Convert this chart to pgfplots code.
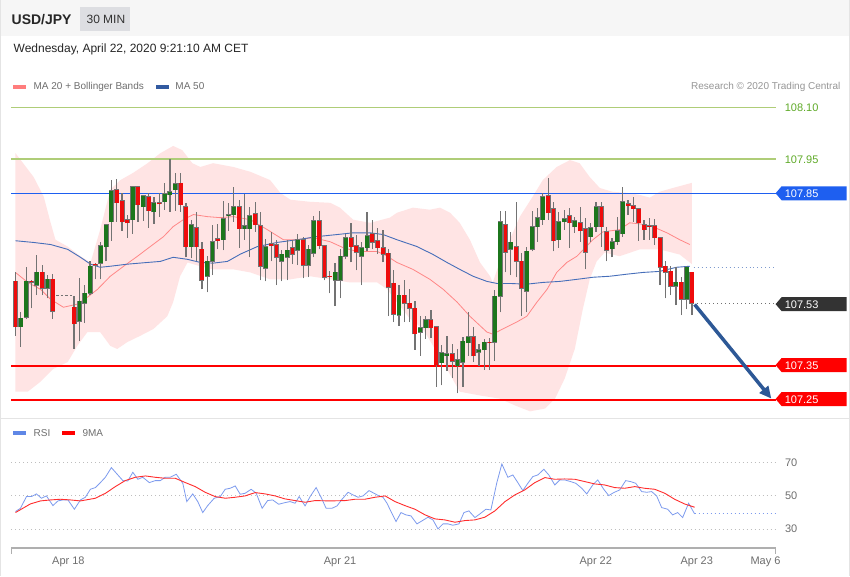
\documentclass[border=0pt]{standalone}
\usepackage{fontspec}
\setmainfont{Liberation Sans}
\usepackage{pgfplots}
\pgfplotsset{compat=1.18}
\usepackage{pgfplotstable}
\usetikzlibrary{arrows.meta}

\definecolor{hdrbg}{RGB}{246,246,246}
\definecolor{tagbox}{RGB}{221,222,226}
\definecolor{bandpink}{RGB}{255,228,228}
\definecolor{ma20}{RGB}{255,135,135}
\definecolor{ma50}{RGB}{70,110,185}
\definecolor{candlered}{RGB}{238,12,12}
\definecolor{candlegreen}{RGB}{28,118,28}
\definecolor{wick}{RGB}{115,115,115}
\definecolor{lvlgreen}{RGB}{175,205,120}
\definecolor{tagblue}{RGB}{30,95,240}
\definecolor{tagdark}{RGB}{51,51,51}
\definecolor{lvlred}{RGB}{255,0,0}
\definecolor{txtgreen}{RGB}{95,170,40}
\definecolor{txtgray}{RGB}{110,110,110}
\definecolor{txtlight}{RGB}{150,150,150}
\definecolor{arrowblue}{RGB}{45,88,150}
\definecolor{rsiblue}{RGB}{125,155,238}
\definecolor{rsired}{RGB}{255,45,45}
\definecolor{legpink}{RGB}{255,125,125}
\definecolor{legblue}{RGB}{50,90,160}
\definecolor{legrsi}{RGB}{95,135,230}
\definecolor{borderc}{RGB}{228,228,228}
\definecolor{axisgray}{RGB}{175,175,175}
\definecolor{dotgray}{RGB}{190,190,190}

\newcommand{\sz}[1]{\fontsize{#1}{#1}\selectfont}

% candles: i = 30-min slot index, O H L C in JPY per USD
\pgfplotstableread{
i O H L C
0 107.595 107.621 107.437 107.463
3 107.595 107.598 107.517 107.593
5 107.621 107.642 107.555 107.575
7 107.601 107.616 107.486 107.508
11 107.520 107.552 107.399 107.472
15 107.645 107.648 107.601 107.642
19 107.861 107.892 107.768 107.823
20 107.829 107.852 107.742 107.768
21 107.774 107.789 107.722 107.765
23 107.869 107.871 107.768 107.818
25 107.841 107.852 107.751 107.800
27 107.823 107.852 107.783 107.820
31 107.880 107.910 107.797 107.818
32 107.812 107.823 107.665 107.696
34 107.751 107.797 107.653 107.696
35 107.688 107.710 107.572 107.598
38 107.719 107.762 107.688 107.713
42 107.812 107.832 107.693 107.748
45 107.791 107.826 107.739 107.760
46 107.757 107.797 107.598 107.639
48 107.704 107.739 107.653 107.699
49 107.702 107.716 107.584 107.665
52 107.693 107.716 107.645 107.674
54 107.716 107.725 107.604 107.642
57 107.771 107.800 107.688 107.699
58 107.699 107.702 107.598 107.607
59 107.610 107.624 107.560 107.608
63 107.722 107.765 107.650 107.696
64 107.699 107.731 107.627 107.679
67 107.733 107.774 107.688 107.708
68 107.713 107.751 107.674 107.693
69 107.693 107.745 107.650 107.674
70 107.676 107.688 107.494 107.578
71 107.589 107.627 107.477 107.500
73 107.555 107.598 107.477 107.531
74 107.531 107.572 107.477 107.517
75 107.517 107.537 107.396 107.443
78 107.483 107.511 107.431 107.460
79 107.463 107.464 107.290 107.353
82 107.385 107.414 107.316 107.364
86 107.434 107.463 107.361 107.379
89 107.419 107.431 107.338 107.417
92 107.760 107.800 107.621 107.679
94 107.696 107.826 107.607 107.653
95 107.653 107.676 107.494 107.575
100 107.844 107.895 107.774 107.794
101 107.806 107.826 107.682 107.713
104 107.786 107.809 107.693 107.765
106 107.765 107.812 107.710 107.742
107 107.748 107.780 107.630 107.679
110 107.812 107.826 107.696 107.754
111 107.739 107.754 107.653 107.685
115 107.820 107.832 107.789 107.815
116 107.815 107.841 107.768 107.806
117 107.806 107.809 107.713 107.765
118 107.760 107.774 107.716 107.745
119 107.757 107.780 107.716 107.754
120 107.757 107.777 107.702 107.722
121 107.722 107.725 107.584 107.636
122 107.639 107.653 107.546 107.621
123 107.624 107.639 107.555 107.581
125 107.592 107.607 107.497 107.543
127 107.621 107.622 107.497 107.531
}\redcandles

\pgfplotstableread{
i O H L C
1 107.463 107.505 107.405 107.488
2 107.491 107.636 107.486 107.595
4 107.584 107.671 107.555 107.621
6 107.575 107.613 107.546 107.601
12 107.480 107.604 107.422 107.537
13 107.531 107.584 107.474 107.560
14 107.560 107.653 107.555 107.639
16 107.648 107.710 107.601 107.699
17 107.696 107.762 107.653 107.760
18 107.768 107.889 107.713 107.858
22 107.774 107.871 107.733 107.869
24 107.812 107.847 107.771 107.844
26 107.797 107.841 107.762 107.823
28 107.826 107.880 107.803 107.849
29 107.847 107.950 107.797 107.855
30 107.861 107.910 107.800 107.878
33 107.696 107.774 107.662 107.760
36 107.610 107.668 107.563 107.653
37 107.653 107.760 107.613 107.710
39 107.716 107.829 107.685 107.777
40 107.786 107.823 107.742 107.789
41 107.789 107.870 107.768 107.812
43 107.748 107.849 107.716 107.757
44 107.748 107.812 107.665 107.786
47 107.633 107.719 107.595 107.696
50 107.653 107.685 107.595 107.674
51 107.665 107.716 107.598 107.685
53 107.685 107.733 107.642 107.716
55 107.642 107.702 107.607 107.688
56 107.676 107.786 107.665 107.771
60 107.598 107.648 107.523 107.621
61 107.598 107.688 107.546 107.668
62 107.668 107.733 107.659 107.722
65 107.668 107.710 107.584 107.693
66 107.693 107.797 107.682 107.728
72 107.497 107.584 107.466 107.555
76 107.448 107.494 107.379 107.460
77 107.460 107.494 107.428 107.483
80 107.359 107.411 107.293 107.388
81 107.379 107.437 107.335 107.385
83 107.350 107.399 107.270 107.367
84 107.361 107.434 107.290 107.422
85 107.417 107.505 107.379 107.434
87 107.390 107.414 107.350 107.396
88 107.396 107.428 107.338 107.419
90 107.419 107.569 107.364 107.552
91 107.552 107.800 107.505 107.768
93 107.688 107.739 107.613 107.708
96 107.566 107.696 107.505 107.682
97 107.688 107.800 107.682 107.754
98 107.754 107.809 107.710 107.780
99 107.774 107.852 107.760 107.841
102 107.716 107.797 107.693 107.768
103 107.768 107.803 107.745 107.777
105 107.754 107.783 107.736 107.771
108 107.725 107.765 107.710 107.751
109 107.754 107.826 107.739 107.812
112 107.690 107.722 107.665 107.710
113 107.710 107.783 107.702 107.742
114 107.733 107.870 107.725 107.826
124 107.581 107.636 107.526 107.592
126 107.543 107.639 107.514 107.636
}\greencandles

\newcommand{\leveltag}[3]{%
  \fill[#2] (776,-#1) -- (782,{7-#1}) -- (847,{7-#1}) -- (847,{-7-#1}) -- (782,{-7-#1}) -- cycle;
  \node[anchor=base west, inner sep=0, text=white, font=\sz{11}] at (785,{-4-#1}) {#3};}

\pgfplotsset{candle/.style 2 args={draw=none, mark=none, forget plot,
    error bars/.cd, y dir=plus, y explicit, error mark=none,
    error bar style={draw=#1, line width=#2}}}

\begin{document}
\begin{tikzpicture}
\begin{scope}[x=1pt,y=1pt]
  \fill[white] (0,0) rectangle (850,-576);
  \fill[hdrbg] (0,0) rectangle (850,-36);
  \draw[borderc, line width=1pt] (0.5,0) -- (0.5,-576);
  \draw[borderc, line width=1pt] (849.5,0) -- (849.5,-576);
  \draw[borderc, line width=1pt] (0,-418) -- (850,-418);
  \fill[tagbox] (80,-7) rectangle (130,-31);
  \node[anchor=base west, inner sep=0, font=\bfseries\sz{14}, text=black!85] at (11,-24) {USD/JPY};
  \node[anchor=base west, inner sep=0, font=\sz{12}, text=black!80] at (86,-23.3) {30 MIN};
  \node[anchor=base west, inner sep=0, font=\sz{12}, text=black!85] at (13,-52.3) {Wednesday, April 22, 2020 9:21:10 AM CET};
  % legends
  \fill[legpink] (13,-84.5) rectangle (26,-88.5);
  \node[anchor=base west, inner sep=0, font=\sz{10}, text=txtgray] at (33,-89.6) {MA 20 + Bollinger Bands};
  \fill[legblue] (156,-84.5) rectangle (169,-88.5);
  \node[anchor=base west, inner sep=0, font=\sz{10}, text=txtgray] at (175,-89.6) {MA 50};
  \node[anchor=base east, inner sep=0, font=\sz{10}, text=txtlight] at (841,-89.6) {Research © 2020 Trading Central};
  \fill[legrsi] (13,-431.5) rectangle (26,-435.5);
  \node[anchor=base west, inner sep=0, font=\sz{10}, text=txtgray] at (33,-436.6) {RSI};
  \fill[lvlred] (62,-431.5) rectangle (75,-435.5);
  \node[anchor=base west, inner sep=0, font=\sz{10}, text=txtgray] at (82,-436.6) {9MA};
  % level labels
  \node[anchor=base west, inner sep=0, font=\sz{11}, text=txtgreen] at (785,-111) {108.10};
  \node[anchor=base west, inner sep=0, font=\sz{11}, text=txtgreen] at (785,-163) {107.95};
  \leveltag{193}{tagblue}{107.85}
  \leveltag{304}{tagdark}{107.53}
  \leveltag{365}{lvlred}{107.35}
  \leveltag{399}{lvlred}{107.25}
\end{scope}

% ---------------- price panel ----------------
\begin{axis}[at={(11pt,-418pt)}, anchor=south west, scale only axis,
  width=765pt, height=320pt, xmin=-0.75, xmax=142.7, ymin=107.1986, ymax=108.1261,
  hide axis, clip=false]
  % Bollinger band (upper left->right, lower right->left)
  \addplot[fill=bandpink, draw=none] coordinates {
   (0,107.967) (3.4,107.898) (5.3,107.841) (6.6,107.765) (7.5,107.716) (9.8,107.696)
   (12.2,107.668) (14.1,107.650) (15.9,107.745) (17.8,107.861) (19.7,107.889) (22.1,107.910)
   (24.8,107.938) (27.2,107.967) (29.6,107.988) (31.3,107.976) (33.2,107.938) (34.7,107.927)
   (37.1,107.938) (40.9,107.927) (44.1,107.913) (47.8,107.889) (49.7,107.852) (51.6,107.832)
   (55.3,107.826) (59.1,107.823) (60.9,107.809) (63.4,107.774) (66.6,107.765) (70.3,107.780)
   (71.6,107.794) (74.6,107.809) (77.8,107.803) (79.7,107.809) (81.6,107.794) (83.4,107.765)
   (85.3,107.716) (87.2,107.650) (89.1,107.610) (89.6,107.592) (90.9,107.650) (92.8,107.716)
   (94.7,107.783) (97.1,107.841) (99.0,107.889) (101.6,107.927) (104.1,107.947) (105.9,107.938)
   (107.8,107.898) (109.7,107.866) (112.1,107.855) (114.8,107.852) (117.2,107.846) (119.1,107.838)
   (120.9,107.855) (123.4,107.866) (127,107.881)
   (127,107.645) (124.7,107.673) (120.9,107.688) (117.2,107.688) (113.4,107.668) (110.6,107.679)
   (109.1,107.653) (107.8,107.601) (106.5,107.514) (105.0,107.399) (103.1,107.313) (101.3,107.255)
   (99.4,107.226) (96.6,107.218) (93.8,107.235) (90.9,107.255) (87.2,107.264) (83.4,107.275)
   (81.0,107.341) (78.4,107.408) (76.5,107.457) (74.1,107.486) (71.6,107.535) (69.8,107.572)
   (67.9,107.592) (62.8,107.592) (59.1,107.601) (55.3,107.610) (51.6,107.601) (47.8,107.601)
   (44.1,107.621) (40.9,107.630) (37.1,107.630) (34.7,107.639) (32.3,107.650) (30.9,107.610)
   (29.6,107.535) (28.5,107.494) (25.9,107.457) (23.4,107.437) (21.0,107.419) (19.1,107.399)
   (17.8,107.408) (15.9,107.448) (13.5,107.448) (11.6,107.408) (9.8,107.361) (7.1,107.341)
   (4.7,107.304) (2.3,107.275) (0,107.275)} -- cycle;
  % horizontal levels
  \addplot[draw=lvlgreen, line width=1.2pt] coordinates {(-0.75,108.10) (142.7,108.10)};
  \addplot[draw=lvlgreen, line width=1.2pt] coordinates {(-0.75,107.95) (142.7,107.95)};
  \addplot[draw=tagblue, line width=1.2pt] coordinates {(-0.75,107.85) (142.7,107.85)};
  \addplot[draw=lvlred, line width=2pt] coordinates {(-0.75,107.35) (142.7,107.35)};
  \addplot[draw=lvlred, line width=2pt] coordinates {(-0.75,107.25) (142.7,107.25)};
  % MA 20
  \addplot[ma20, line width=0.8pt] coordinates {
   (0,107.621) (2.3,107.592) (4.7,107.572) (6.6,107.543) (9.0,107.520) (11.6,107.529)
   (13.5,107.549) (15.4,107.572) (17.8,107.610) (20.3,107.639) (22.9,107.668) (25.3,107.696)
   (27.8,107.725) (29.6,107.754) (31.5,107.774) (33.4,107.789) (36.0,107.783) (38.4,107.780)
   (40.9,107.783) (44.1,107.774) (47.3,107.745) (50.3,107.716) (52.9,107.716) (55.9,107.722)
   (59.1,107.710) (61.5,107.693) (64.1,107.682) (67.9,107.682) (69.8,107.668) (71.6,107.650)
   (74.6,107.630) (77.8,107.601) (80.3,107.572) (82.9,107.535) (85.3,107.494) (88.5,107.448)
   (89.6,107.442) (91.5,107.457) (94.1,107.477) (96.0,107.494) (97.9,107.535) (99.8,107.572)
   (101.6,107.621) (103.5,107.650) (105.4,107.668) (108.4,107.716) (110.3,107.739) (113.4,107.745)
   (115.3,107.765) (117.2,107.762) (119.6,107.754) (122.3,107.736) (124.7,107.716) (126.6,107.702)};
  % MA 50
  \addplot[ma50, line width=0.9pt] coordinates {
   (0,107.713) (3.4,107.708) (6.6,107.702) (9.8,107.688) (12.2,107.665) (14.1,107.645)
   (15.9,107.636) (17.8,107.639) (21.0,107.645) (24.8,107.650) (27.2,107.653) (29.6,107.665)
   (32.3,107.659) (34.7,107.650) (37.1,107.648) (39.8,107.653) (42.2,107.674) (45.4,107.696)
   (49.1,107.708) (52.9,107.716) (56.6,107.725) (60.4,107.731) (63.4,107.736) (66.6,107.736)
   (69.0,107.731) (71.6,107.716) (75.4,107.696) (78.4,107.673) (81.0,107.650) (83.4,107.630)
   (85.9,107.610) (88.5,107.595) (90.4,107.589) (92.8,107.589) (96.0,107.587) (99.0,107.592)
   (102.2,107.595) (105.4,107.601) (108.4,107.607) (111.6,107.610) (114.8,107.616) (117.8,107.621)
   (120.9,107.624) (124.1,107.636) (126.6,107.639)};
  \addplot[ma50!70, line width=1pt, dash pattern=on 1pt off 3pt] coordinates {(127.3,107.636) (142.7,107.636)};
  \addplot[tagdark!70, line width=1pt, dash pattern=on 1pt off 3pt] coordinates {(128,107.531) (142.7,107.531)};
  % weekend gap
  \addplot[wick, line width=1pt, dash pattern=on 2.5pt off 2pt] coordinates {(7.7,107.555) (10.7,107.555)};
  % wicks
  \addplot[candle={wick}{1.2pt}] table[x=i, y=L, y error plus expr=\thisrow{H}-\thisrow{L}] {\redcandles};
  \addplot[candle={wick}{1.2pt}] table[x=i, y=L, y error plus expr=\thisrow{H}-\thisrow{L}] {\greencandles};
  % bodies (thin dark outline underneath)
  \addplot[candle={black!55}{5pt}] table[x=i, y expr=\thisrow{C}-0.0015, y error plus expr=\thisrow{O}-\thisrow{C}+0.003] {\redcandles};
  \addplot[candle={black!55}{5pt}] table[x=i, y expr=\thisrow{O}-0.0015, y error plus expr=\thisrow{C}-\thisrow{O}+0.003] {\greencandles};
  \addplot[candle={candlered}{3.8pt}] table[x=i, y=C, y error plus expr=\thisrow{O}-\thisrow{C}] {\redcandles};
  \addplot[candle={candlegreen}{3.8pt}] table[x=i, y=O, y error plus expr=\thisrow{C}-\thisrow{O}] {\greencandles};
  % forecast arrow
  \addplot[arrowblue, line width=3.5pt, -{Triangle[length=12pt,width=11pt]}] coordinates {(127.5,107.528) (141.9,107.255)};
\end{axis}

% ---------------- RSI panel ----------------
\begin{axis}[at={(11pt,-548pt)}, anchor=south west, scale only axis,
  width=765pt, height=100pt, xmin=-0.75, xmax=142.7, ymin=18.8, ymax=78.8,
  axis x line*=bottom, axis y line*=right, clip=false,
  x axis line style={draw=axisgray, line width=1.6pt},
  y axis line style={draw=none},
  xtick={-0.75,142.7}, xticklabels={,},
  xtick style={draw=axisgray, line width=1.2pt},
  ytick={30,50,70}, ytick style={draw=none},
  major tick length=6pt, tick align=outside,
  ymajorgrids, grid style={dotgray, line width=1pt, dash pattern=on 1pt off 3pt},
  yticklabel style={font=\sz{11}, text=txtgray},
  /pgf/number format/assume math mode=true]
  \addplot[rsiblue, line width=0.8pt] coordinates {
   (0,40.6) (0.94,42.6) (2.06,49.6) (3.0,49.6) (3.94,51.2) (4.87,48.6) (5.81,50.0) (7.03,44.2)
   (7.97,47.0) (8.91,47.6) (9.84,47.6) (11.06,42.0) (12.19,47.6) (13.12,49.2) (14.06,54.0)
   (15.0,55.0) (15.94,58.0) (16.87,61.2) (18.0,67.0) (18.94,63.6) (20.16,59.2) (21.09,59.0)
   (22.03,64.2) (22.97,60.0) (23.91,61.2) (25.12,58.0) (26.25,59.2) (27.19,59.2) (28.12,61.2)
   (29.06,61.2) (30.19,63.0) (31.41,57.6) (32.16,46.6) (33.28,51.2) (34.22,46.6) (35.16,40.0)
   (36.09,44.2) (37.31,48.6) (38.44,49.6) (39.37,54.0) (40.31,54.6) (41.25,56.0) (42.19,51.0)
   (43.12,51.6) (44.25,54.0) (45.19,51.6) (46.31,42.6) (47.34,47.2) (48.28,47.6) (49.41,45.0)
   (50.62,46.0) (51.56,46.6) (52.5,45.6) (53.25,49.6) (54.37,44.0) (55.31,49.6) (56.44,55.0)
   (57.37,49.2) (58.31,42.6) (59.44,42.6) (60.37,44.0) (61.31,48.0) (62.44,52.2) (63.37,50.6)
   (64.31,49.2) (65.25,50.0) (66.37,53.2) (67.31,51.6) (68.25,50.0) (69.0,49.2) (69.75,45.6)
   (70.5,40.6) (71.44,34.6) (72.37,40.0) (73.31,38.6) (74.25,38.0) (75.37,33.2) (76.31,35.0)
   (77.44,37.2) (78.37,35.6) (79.31,30.2) (80.25,33.2) (81.19,33.2) (82.12,32.4) (83.25,33.2)
   (84.19,40.0) (85.12,41.0) (86.25,37.0) (87.19,39.2) (88.31,42.0) (89.25,41.6) (90.37,58.0)
   (91.31,69.2) (92.44,61.2) (93.37,62.6) (94.31,58.0) (95.25,53.2) (96.19,57.6) (97.12,61.6)
   (98.06,62.6) (99.19,66.0) (100.12,62.6) (101.25,56.6) (102.19,59.6) (103.12,59.6) (104.25,58.6)
   (105.19,57.6) (106.31,54.6) (107.25,51.2) (108.37,56.6) (109.31,59.6) (110.44,54.0) (111.37,50.2)
   (112.31,52.0) (113.44,53.6) (114.56,59.2) (115.5,58.6) (116.44,57.6) (117.56,52.6) (118.5,52.2)
   (119.44,52.6) (120.37,50.0) (121.31,43.0) (122.44,42.0) (123.37,38.6) (124.31,40.0) (125.25,37.0)
   (126.37,45.6) (127.5,39.2)};
  \addplot[rsiblue, line width=1pt, dash pattern=on 1pt off 3pt] coordinates {(127.5,39.2) (142.7,39.2)};
  \addplot[rsired, line width=0.9pt] coordinates {
   (0,40.0) (1.4,42.6) (2.8,45.2) (4.7,47.0) (6.6,47.6) (8.4,48.0) (10.3,47.6) (12.2,47.0)
   (15.0,48.6) (16.9,51.6) (18.75,55.6) (20.6,59.2) (22.5,61.2) (24.4,62.0) (26.25,61.2)
   (28.1,60.6) (30.0,60.6) (31.9,58.0) (33.75,55.6) (35.6,52.2) (37.5,49.6) (39.4,48.6)
   (41.25,49.2) (43.1,50.0) (45.0,52.0) (46.9,51.2) (48.75,50.0) (50.6,48.2) (52.5,47.2)
   (54.4,46.2) (56.25,47.2) (59.1,47.0) (61.9,47.2) (63.75,48.0) (65.6,48.0) (67.5,49.2)
   (69.4,50.0) (71.25,46.6) (73.1,44.2) (75.0,42.0) (76.9,38.6) (78.75,36.2) (80.6,35.6)
   (82.5,34.2) (84.4,35.2) (86.25,35.6) (88.1,37.2) (90.0,41.0) (91.9,46.6) (93.75,50.6)
   (95.6,53.6) (97.5,58.0) (99.4,61.0) (101.25,60.0) (103.1,60.2) (105.0,60.0) (106.9,58.6)
   (108.75,57.2) (110.6,56.6) (112.5,55.0) (114.4,54.6) (116.25,55.6) (118.1,54.6) (120.0,54.0)
   (121.9,51.6) (123.75,48.0) (125.6,45.2) (127.5,43.2)};
  \node[anchor=base, inner sep=0, font=\sz{11}, text=txtgray, yshift=-16.5pt] at (axis cs:9.94,18.8) {Apr 18};
  \node[anchor=base, inner sep=0, font=\sz{11}, text=txtgray, yshift=-16.5pt] at (axis cs:60.94,18.8) {Apr 21};
  \node[anchor=base, inner sep=0, font=\sz{11}, text=txtgray, yshift=-16.5pt] at (axis cs:108.94,18.8) {Apr 22};
  \node[anchor=base, inner sep=0, font=\sz{11}, text=txtgray, yshift=-16.5pt] at (axis cs:127.9,18.8) {Apr 23};
  \node[anchor=base, inner sep=0, font=\sz{11}, text=txtgray, yshift=-16.5pt] at (axis cs:140.8,18.8) {May 6};
\end{axis}
\end{tikzpicture}
\end{document}
